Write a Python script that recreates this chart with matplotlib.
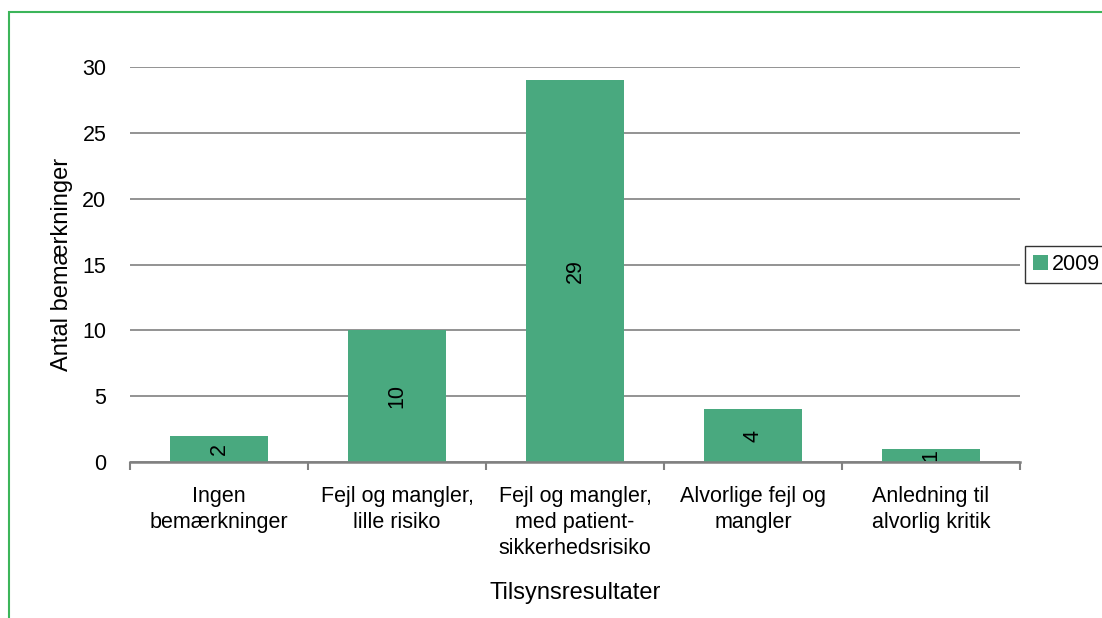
import matplotlib
matplotlib.use("Agg")
import matplotlib.pyplot as plt
import matplotlib.patches as mpatches
import numpy as np

plt.rcParams['font.family'] = ['Liberation Sans', 'DejaVu Sans']

# data
categories = ["Ingen\nbemærkninger", "Fejl og mangler,\nlille risiko",
              "Fejl og mangler,\nmed patient-\nsikkerhedsrisiko",
              "Alvorlige fejl og\nmangler", "Anledning til\nalvorlig kritik"]
values_2009 = [2, 10, 29, 4, 1]
series_name = "2009"

bar_color = "#49a97f"
fs = 15.5

fig = plt.figure(figsize=(11.02, 6.18), dpi=100)
ax = fig.add_axes([0.118, 0.2524, 0.8075, 0.6392])

x = np.arange(len(categories))
bars = ax.bar(x, values_2009, width=0.55, color=bar_color, label=series_name, zorder=3)

# value labels, rotated, in the middle of each bar
for xi, v in zip(x, values_2009):
    ax.text(xi, v / 2, str(v), rotation=90, ha='center', va='center',
            fontsize=fs, zorder=4)

ax.set_xlim(-0.5, len(categories) - 0.5)
ax.set_ylim(0, 30)
ax.set_yticks([0, 5, 10, 15, 20, 25, 30])
ax.yaxis.grid(True, color='#808080', linewidth=1.2, zorder=0)

# category boundaries get the tick marks, labels sit in the middle
ax.set_xticks(np.arange(-0.5, len(categories), 1.0))
ax.set_xticklabels([])
ax.set_xticks(x, minor=True)
ax.set_xticklabels(categories, minor=True, fontsize=fs, linespacing=1.32)
ax.tick_params(axis='x', which='major', length=6, width=1.5, color='#808080', direction='out')
ax.tick_params(axis='x', which='minor', length=0, pad=17)
ax.tick_params(axis='y', length=0, pad=17, labelsize=fs)

for s in ['top', 'right', 'left']:
    ax.spines[s].set_visible(False)
ax.spines['bottom'].set_color('#808080')
ax.spines['bottom'].set_linewidth(1.8)
ax.spines['bottom'].set_zorder(5)

ax.set_ylabel("Antal bemærkninger", fontsize=17, labelpad=7)
ax.set_xlabel("Tilsynsresultater", fontsize=17, labelpad=17)

leg = ax.legend(loc='center left', bbox_to_anchor=(1.006, 0.5), fontsize=fs,
                frameon=True, fancybox=False, handlelength=0.7, handleheight=0.7,
                handletextpad=0.2, borderpad=0.35, borderaxespad=0)
leg.get_frame().set_edgecolor('black')
leg.get_frame().set_linewidth(1.0)

# green frame around the chart area (cut off at right and bottom)
fig.patches.append(mpatches.Rectangle((9 / 1102, -0.05), 1.2, 1 - 12 / 618 + 0.05,
                                      transform=fig.transFigure, fill=False,
                                      edgecolor='#3cb55a', linewidth=1.5))

fig.savefig("out.png", dpi=100)
